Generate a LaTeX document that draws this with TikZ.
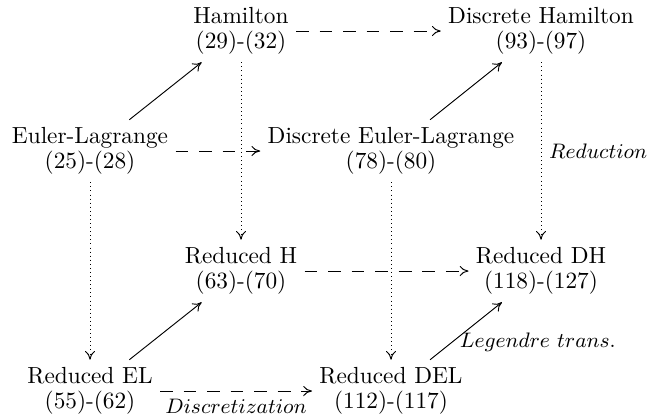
\documentclass[tikz,border=0pt]{standalone}
\usetikzlibrary{arrows.meta}
\begin{document}
\begin{tikzpicture}[x=0.4292pt,y=-0.4292pt,
  box/.style={align=center,font=\fontsize{10}{11}\selectfont,inner sep=3pt},
  lbl/.style={font=\fontsize{9}{10}\selectfont},
  tip/.style={-{To[length=3.8pt,width=4.4pt]}},
  dsh/.style={tip,dash pattern=on 5.5pt off 4.6pt},
  dotl/.style={tip,dash pattern=on 0.45pt off 1.3pt},
  arr/.style={tip}]
\useasboundingbox (0,0) rectangle (654,418);
\node[box] (H)   at (241,31)  {Hamilton\\(29)-(32)};
\node[box] (DH)  at (541,31)  {Discrete Hamilton\\(93)-(97)};
\node[box] (EL)  at (90,151)  {Euler-Lagrange\\(25)-(28)};
\node[box] (DEL) at (391,151) {Discrete Euler-Lagrange\\(78)-(80)};
\node[box] (RH)  at (241,271) {Reduced H\\(63)-(70)};
\node[box] (RDH) at (541,271) {Reduced DH\\(118)-(127)};
\node[box] (REL) at (90,391)  {Reduced EL\\(55)-(62)};
\node[box] (RDEL) at (391,391) {Reduced DEL\\(112)-(117)};
\draw[dsh] (H) -- (DH);
\draw[dsh] (EL) -- (DEL);
\draw[dsh] (RH) -- (RDH);
\draw[dsh] (REL) -- node[midway,below,lbl,inner sep=3.5pt] {$Discretization$} (RDEL);
\draw[arr] (EL) -- (H);
\draw[arr] (DEL) -- (DH);
\draw[arr] (REL) -- (RH);
\draw[arr] (RDEL) -- node[pos=0.3,anchor=west,lbl] {$Legendre\ trans.$} (RDH);
\draw[dotl] (H) -- (RH);
\draw[dotl] (EL) -- (REL);
\draw[dotl] (DEL) -- (RDEL);
\draw[dotl] (DH) -- node[midway,right,lbl] {$Reduction$} (RDH);
\end{tikzpicture}
\end{document}
